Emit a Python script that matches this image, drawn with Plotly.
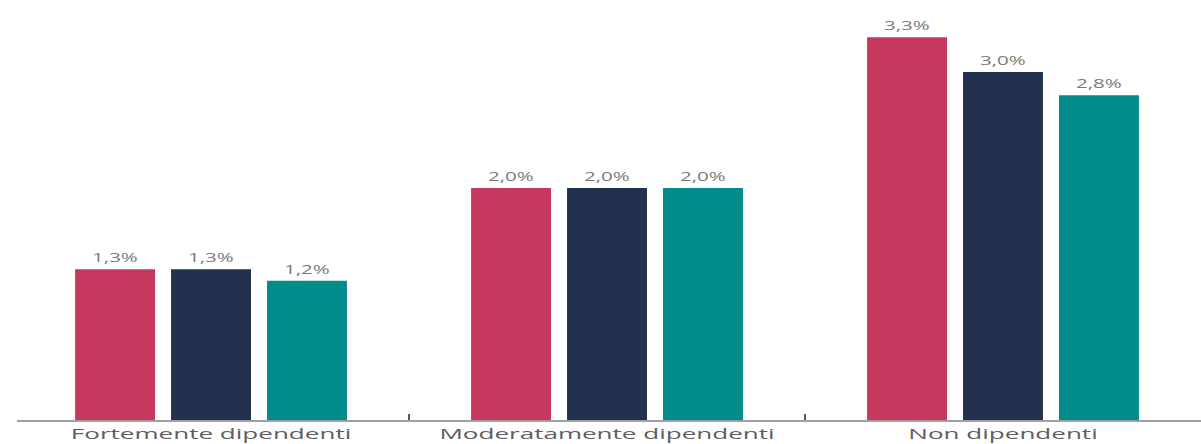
import plotly.graph_objects as go

# Categories and the three series (percent values)
categories = ["Fortemente dipendenti", "Moderatamente dipendenti", "Non dipendenti"]
series_1 = [1.3, 2.0, 3.3]
series_2 = [1.3, 2.0, 3.0]
series_3 = [1.2, 2.0, 2.8]
series_names = ["Serie 1", "Serie 2", "Serie 3"]
series_colors = ["#C6385E", "#22314F", "#008C8A"]


def pct_label(v):
    return f"{v:.1f}%".replace(".", ",")


fig = go.Figure()
for name, vals, col in zip(series_names, [series_1, series_2, series_3], series_colors):
    fig.add_trace(go.Bar(
        x=categories,
        y=vals,
        name=name,
        marker=dict(color=col, line=dict(width=0)),
        text=[pct_label(v) for v in vals],
        textposition="outside",
        textfont=dict(family="Open Sans", size=13, color="#7a7a7a"),
        cliponaxis=False,
        hoverinfo="skip",
    ))

fig.update_layout(
    width=1201,
    height=444,
    margin=dict(l=17, r=0, t=0, b=24),
    paper_bgcolor="white",
    plot_bgcolor="white",
    showlegend=False,
    barmode="group",
    bargap=0.273,
    bargroupgap=0.167,
    xaxis=dict(
        type="category",
        range=[-0.49, 2.5],
        showline=True,
        linecolor="#a0a0a0",
        linewidth=2,
        ticks="inside",
        tickson="boundaries",
        ticklen=6,
        tickwidth=2,
        tickcolor="#555555",
        showgrid=False,
        tickfont=dict(family="Open Sans", size=14, color="#5e5e5e"),
        ticklabelstandoff=0,
    ),
    yaxis=dict(
        range=[0, 3.62],
        visible=False,
        showgrid=False,
        zeroline=False,
    ),
)

# Widen the label glyphs horizontally (wide, tracked lettering)
stretch_js = """
(function(){
  var gd = document.getElementById('{plot_id}');
  function widen(sel, k){
    gd.querySelectorAll(sel).forEach(function(t){
      t.removeAttribute('textLength');
      var w = t.getComputedTextLength();
      t.setAttribute('lengthAdjust', 'spacingAndGlyphs');
      t.setAttribute('textLength', (w * k).toFixed(1));
    });
  }
  function apply(){
    widen('.xtick text', 1.86);
    widen('text.bartext', 1.58);
  }
  apply();
  if (gd.on) { gd.on('plotly_afterplot', apply); }
})();
"""

fig.write_html("out.html", post_script=stretch_js)
